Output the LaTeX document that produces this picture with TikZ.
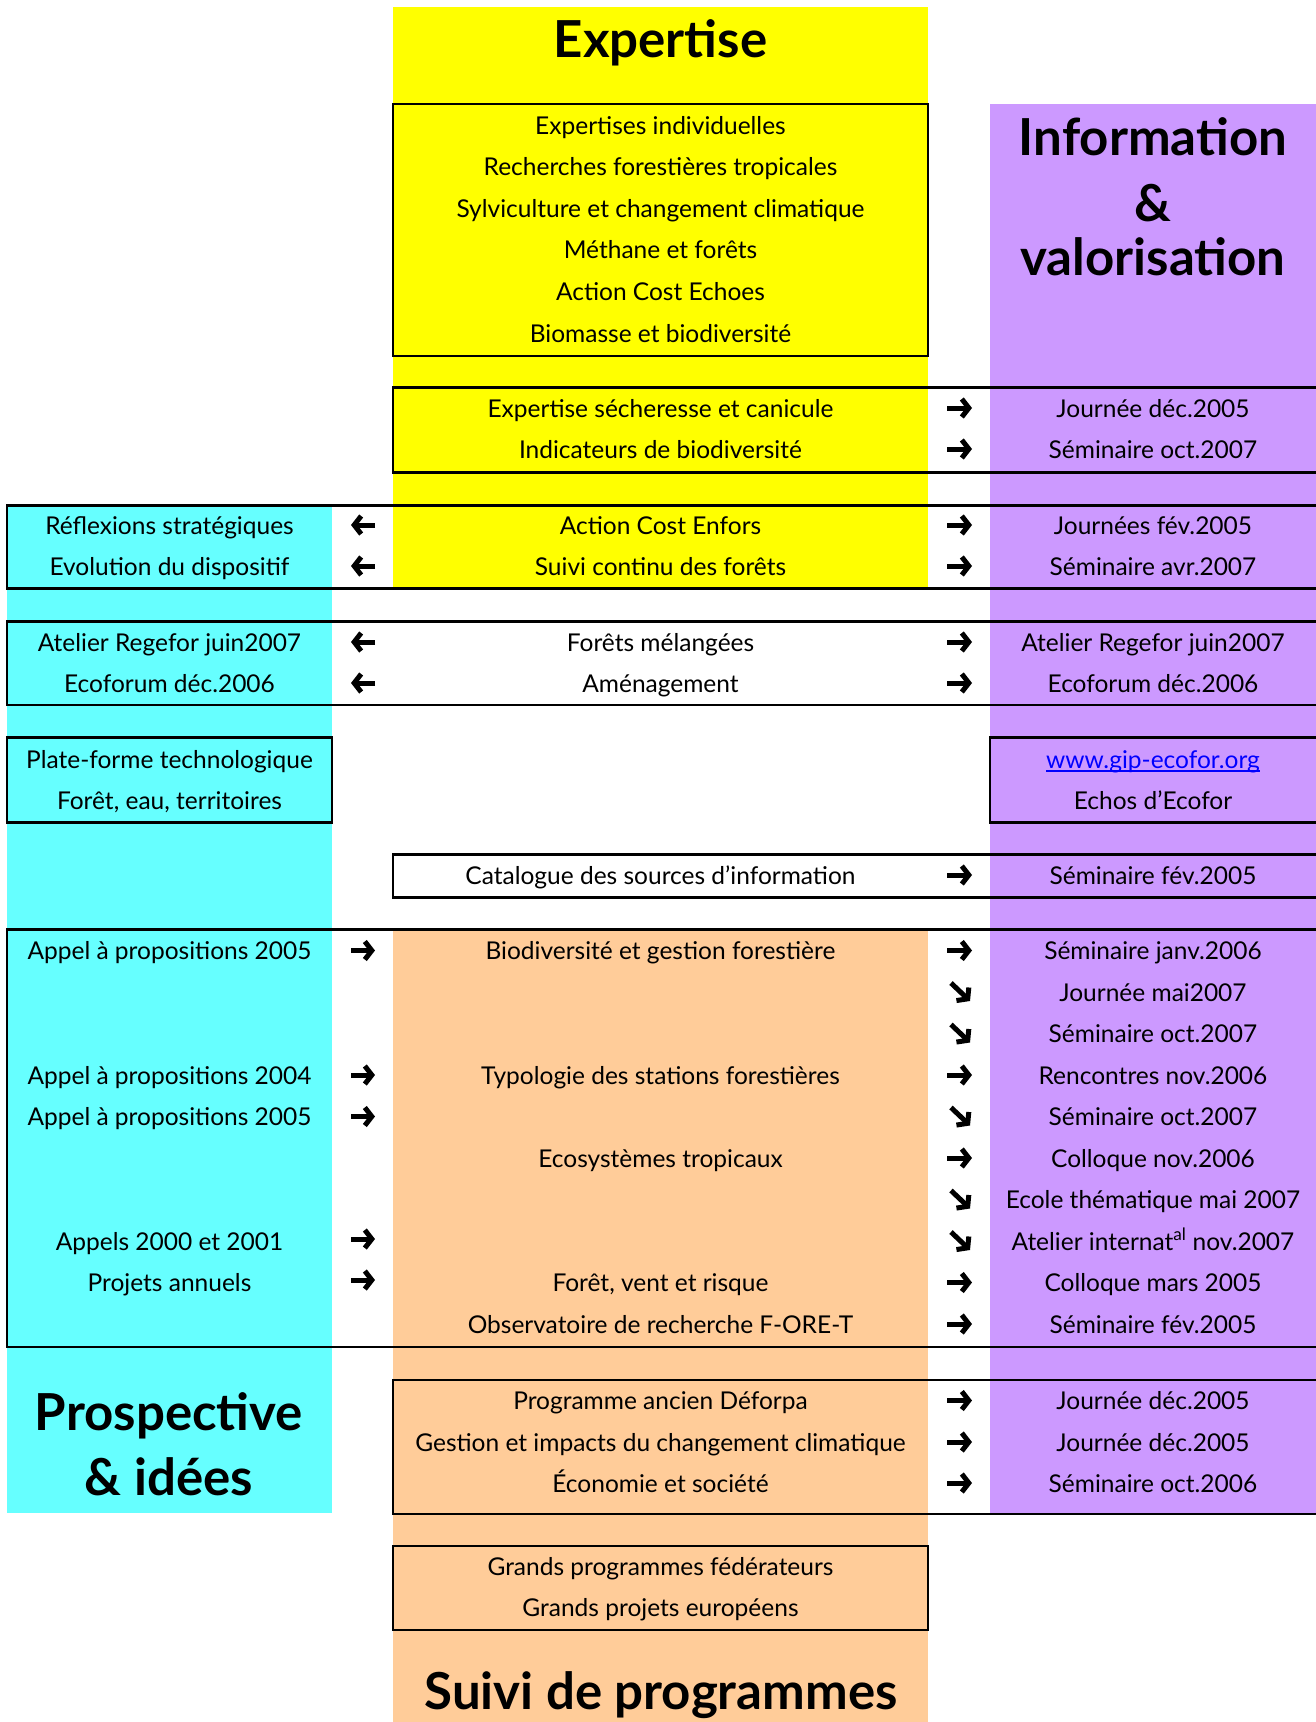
\documentclass[tikz,border=0pt]{standalone}
\usepackage{fontspec}
\setmainfont{Lato}
\usetikzlibrary{arrows.meta}
\definecolor{cyanc}{RGB}{102,255,255}
\definecolor{purp}{RGB}{204,153,255}
\definecolor{orng}{RGB}{255,204,153}
\definecolor{yell}{RGB}{255,255,0}
\definecolor{linkblue}{RGB}{0,0,255}
\begin{document}
\begin{tikzpicture}[x=1pt,y=-1pt,
  txt/.style={anchor=base, inner sep=0pt, font=\fontsize{24.5}{30}\selectfont},
  ttl/.style={anchor=base, inner sep=0pt, font=\fontsize{51}{60}\selectfont\bfseries},
  frame/.style={draw=black, line width=2.5pt},
  arr/.style={line width=5pt, -{Straight Barb[length=7pt,width=18pt,line width=5pt]}},
]
\useasboundingbox (0,0) rectangle (1316,1722);
\fill[white] (0,0) rectangle (1316,1722);
% column backgrounds
\fill[yell] (393,7) rectangle (928,589);
\fill[orng] (393,930) rectangle (928,1722);
\fill[cyanc] (7,505) rectangle (332,1513);
\fill[purp] (990,104) rectangle (1316,1514);
% frames
\draw[frame] (393,104) rectangle (928,356);
\draw[frame] (393,387.5) rectangle (1320,472.5);
\draw[frame] (7,505.5) rectangle (1320,588.5);
\draw[frame] (7,621.5) rectangle (1320,705);
\draw[frame] (7,737.5) rectangle (332,822.5);
\draw[frame] (990,737.5) rectangle (1320,822.5);
\draw[frame] (393,854.5) rectangle (1320,897.5);
\draw[frame] (7,929.5) rectangle (1320,1347);
\draw[frame] (393,1380) rectangle (1320,1514);
\draw[frame] (393,1546) rectangle (928,1630);
% titles
\node[ttl] (tExp) at (660.5,57.5) {Expertise};
\node[ttl] (tInf1) at (1153,155) {Information};
\node[ttl] (tInf2) at (1153,221.5) {\&};
\node[ttl] (tInf3) at (1153,275.5) {valorisation};
\node[ttl] (tPro1) at (169,1430) {Prospective};
\node[ttl] (tPro2) at (169,1495) {\& idées};
\node[ttl] (tSuivi) at (661,1709) {Suivi de programmes};
% box 1
\node[txt] (e1) at (660.5,134) {Expertises individuelles};
\node[txt] (e2) at (660.5,175.6) {Recherches forestières tropicales};
\node[txt] (e3) at (660.5,217.2) {Sylviculture et changement climatique};
\node[txt] (e4) at (660.5,258.8) {Méthane et forêts};
\node[txt] (e5) at (660.5,300.4) {Action Cost Echoes};
\node[txt] (e6) at (660.5,342) {Biomasse et biodiversité};
% box 2
\node[txt] (m21) at (660.5,417) {Expertise sécheresse et canicule};
\node[txt] (m22) at (660.5,458) {Indicateurs de biodiversité};
\node[txt] (r21) at (1153,417) {Journée déc.2005};
\node[txt] (r22) at (1153,458) {Séminaire oct.2007};
% box 3
\node[txt] (l31) at (169.5,534) {Réflexions stratégiques};
\node[txt] (l32) at (169.5,575) {Evolution du dispositif};
\node[txt] (m31) at (660.5,534) {Action Cost Enfors};
\node[txt] (m32) at (660.5,575) {Suivi continu des forêts};
\node[txt] (r31) at (1153,534) {Journées fév.2005};
\node[txt] (r32) at (1153,575) {Séminaire avr.2007};
% box 4
\node[txt] (l41) at (169.5,651) {Atelier Regefor juin2007};
\node[txt] (l42) at (169.5,692) {Ecoforum déc.2006};
\node[txt] (m41) at (660.5,651) {Forêts mélangées};
\node[txt] (m42) at (660.5,692) {Aménagement};
\node[txt] (r41) at (1153,651) {Atelier Regefor juin2007};
\node[txt] (r42) at (1153,692) {Ecoforum déc.2006};
% box 5
\node[txt] (l51) at (169.5,768) {Plate-forme technologique};
\node[txt] (l52) at (169.5,809) {Forêt, eau, territoires};
\node[txt, text=linkblue] (www) at (1153,768) {www.gip-ecofor.org};
\draw[linkblue, line width=1.5pt] ([yshift=-3pt]www.base west) -- ([yshift=-3pt]www.base east);
\node[txt] (r52) at (1153,809) {Echos d’Ecofor};
% box 6
\node[txt] (m61) at (660.5,884) {Catalogue des sources d’information};
\node[txt] (r61) at (1153,884) {Séminaire fév.2005};
% box 7
\node[txt] (l70) at (169.5,959.5) {Appel à propositions 2005};
\node[txt] (l73) at (169.5,1084) {Appel à propositions 2004};
\node[txt] (l74) at (169.5,1125.5) {Appel à propositions 2005};
\node[txt] (l77) at (169.5,1250) {Appels 2000 et 2001};
\node[txt] (l78) at (169.5,1291.5) {Projets annuels};
\node[txt] (m70) at (660.5,959.5) {Biodiversité et gestion forestière};
\node[txt] (m73) at (660.5,1084) {Typologie des stations forestières};
\node[txt] (m75) at (660.5,1167) {Ecosystèmes tropicaux};
\node[txt] (m78) at (660.5,1291.5) {Forêt, vent et risque};
\node[txt] (m79) at (660.5,1333) {Observatoire de recherche F-ORE-T};
\node[txt] (r70) at (1153,959.5) {Séminaire janv.2006};
\node[txt] (r71) at (1153,1001) {Journée mai2007};
\node[txt] (r72) at (1153,1042.5) {Séminaire oct.2007};
\node[txt] (r73) at (1153,1084) {Rencontres nov.2006};
\node[txt] (r74) at (1153,1125.5) {Séminaire oct.2007};
\node[txt] (r75) at (1153,1167) {Colloque nov.2006};
\node[txt] (r76) at (1153,1208.5) {Ecole thématique mai 2007};
\node[txt] (r77) at (1153,1250) {Atelier internat\textsuperscript{al} nov.2007};
\node[txt] (r78) at (1153,1291.5) {Colloque mars 2005};
\node[txt] (r79) at (1153,1333) {Séminaire fév.2005};
% box 8
\node[txt] (m81) at (660.5,1409.5) {Programme ancien Déforpa};
\node[txt] (m82) at (660.5,1451) {Gestion et impacts du changement climatique};
\node[txt] (m83) at (660.5,1492) {Économie et société};
\node[txt] (r81) at (1153,1409.5) {Journée déc.2005};
\node[txt] (r82) at (1153,1451) {Journée déc.2005};
\node[txt] (r83) at (1153,1492) {Séminaire oct.2006};
% box 9
\node[txt] (m91) at (660.5,1575) {Grands programmes fédérateurs};
\node[txt] (m92) at (660.5,1616) {Grands projets européens};
% arrows: right column (to the right)
\foreach \yy/\nn in {408/a,449/b,525/c,566/d,642/e,683/f,875/g,950.5/h,1075/i,1158/j,1282.5/k,1324/l,1400.5/m,1442/n,1483/o}{
  \coordinate (rs\nn) at (947,\yy);
  \coordinate (re\nn) at (972,\yy);
  \draw[arr] (rs\nn) -- (re\nn);
}
% arrows: right column (down-right)
\foreach \yy/\nn in {992/a,1033.5/b,1116.5/c,1199.5/d,1241/e}{
  \coordinate (ds\nn) at (951,\yy-9);
  \coordinate (de\nn) at (970,\yy+9);
  \draw[arr] (ds\nn) -- (de\nn);
}
% arrows: left column (to the left)
\foreach \yy/\nn in {525/a,566/b,642/c,683/d}{
  \coordinate (ls\nn) at (375,\yy);
  \coordinate (le\nn) at (351,\yy);
  \draw[arr] (ls\nn) -- (le\nn);
}
% arrows: left column (to the right)
\foreach \yy/\nn in {950.5/a,1075/b,1116.5/c,1239/d,1280/e}{
  \coordinate (ps\nn) at (351,\yy);
  \coordinate (pe\nn) at (375,\yy);
  \draw[arr] (ps\nn) -- (pe\nn);
}
\end{tikzpicture}
\end{document}
